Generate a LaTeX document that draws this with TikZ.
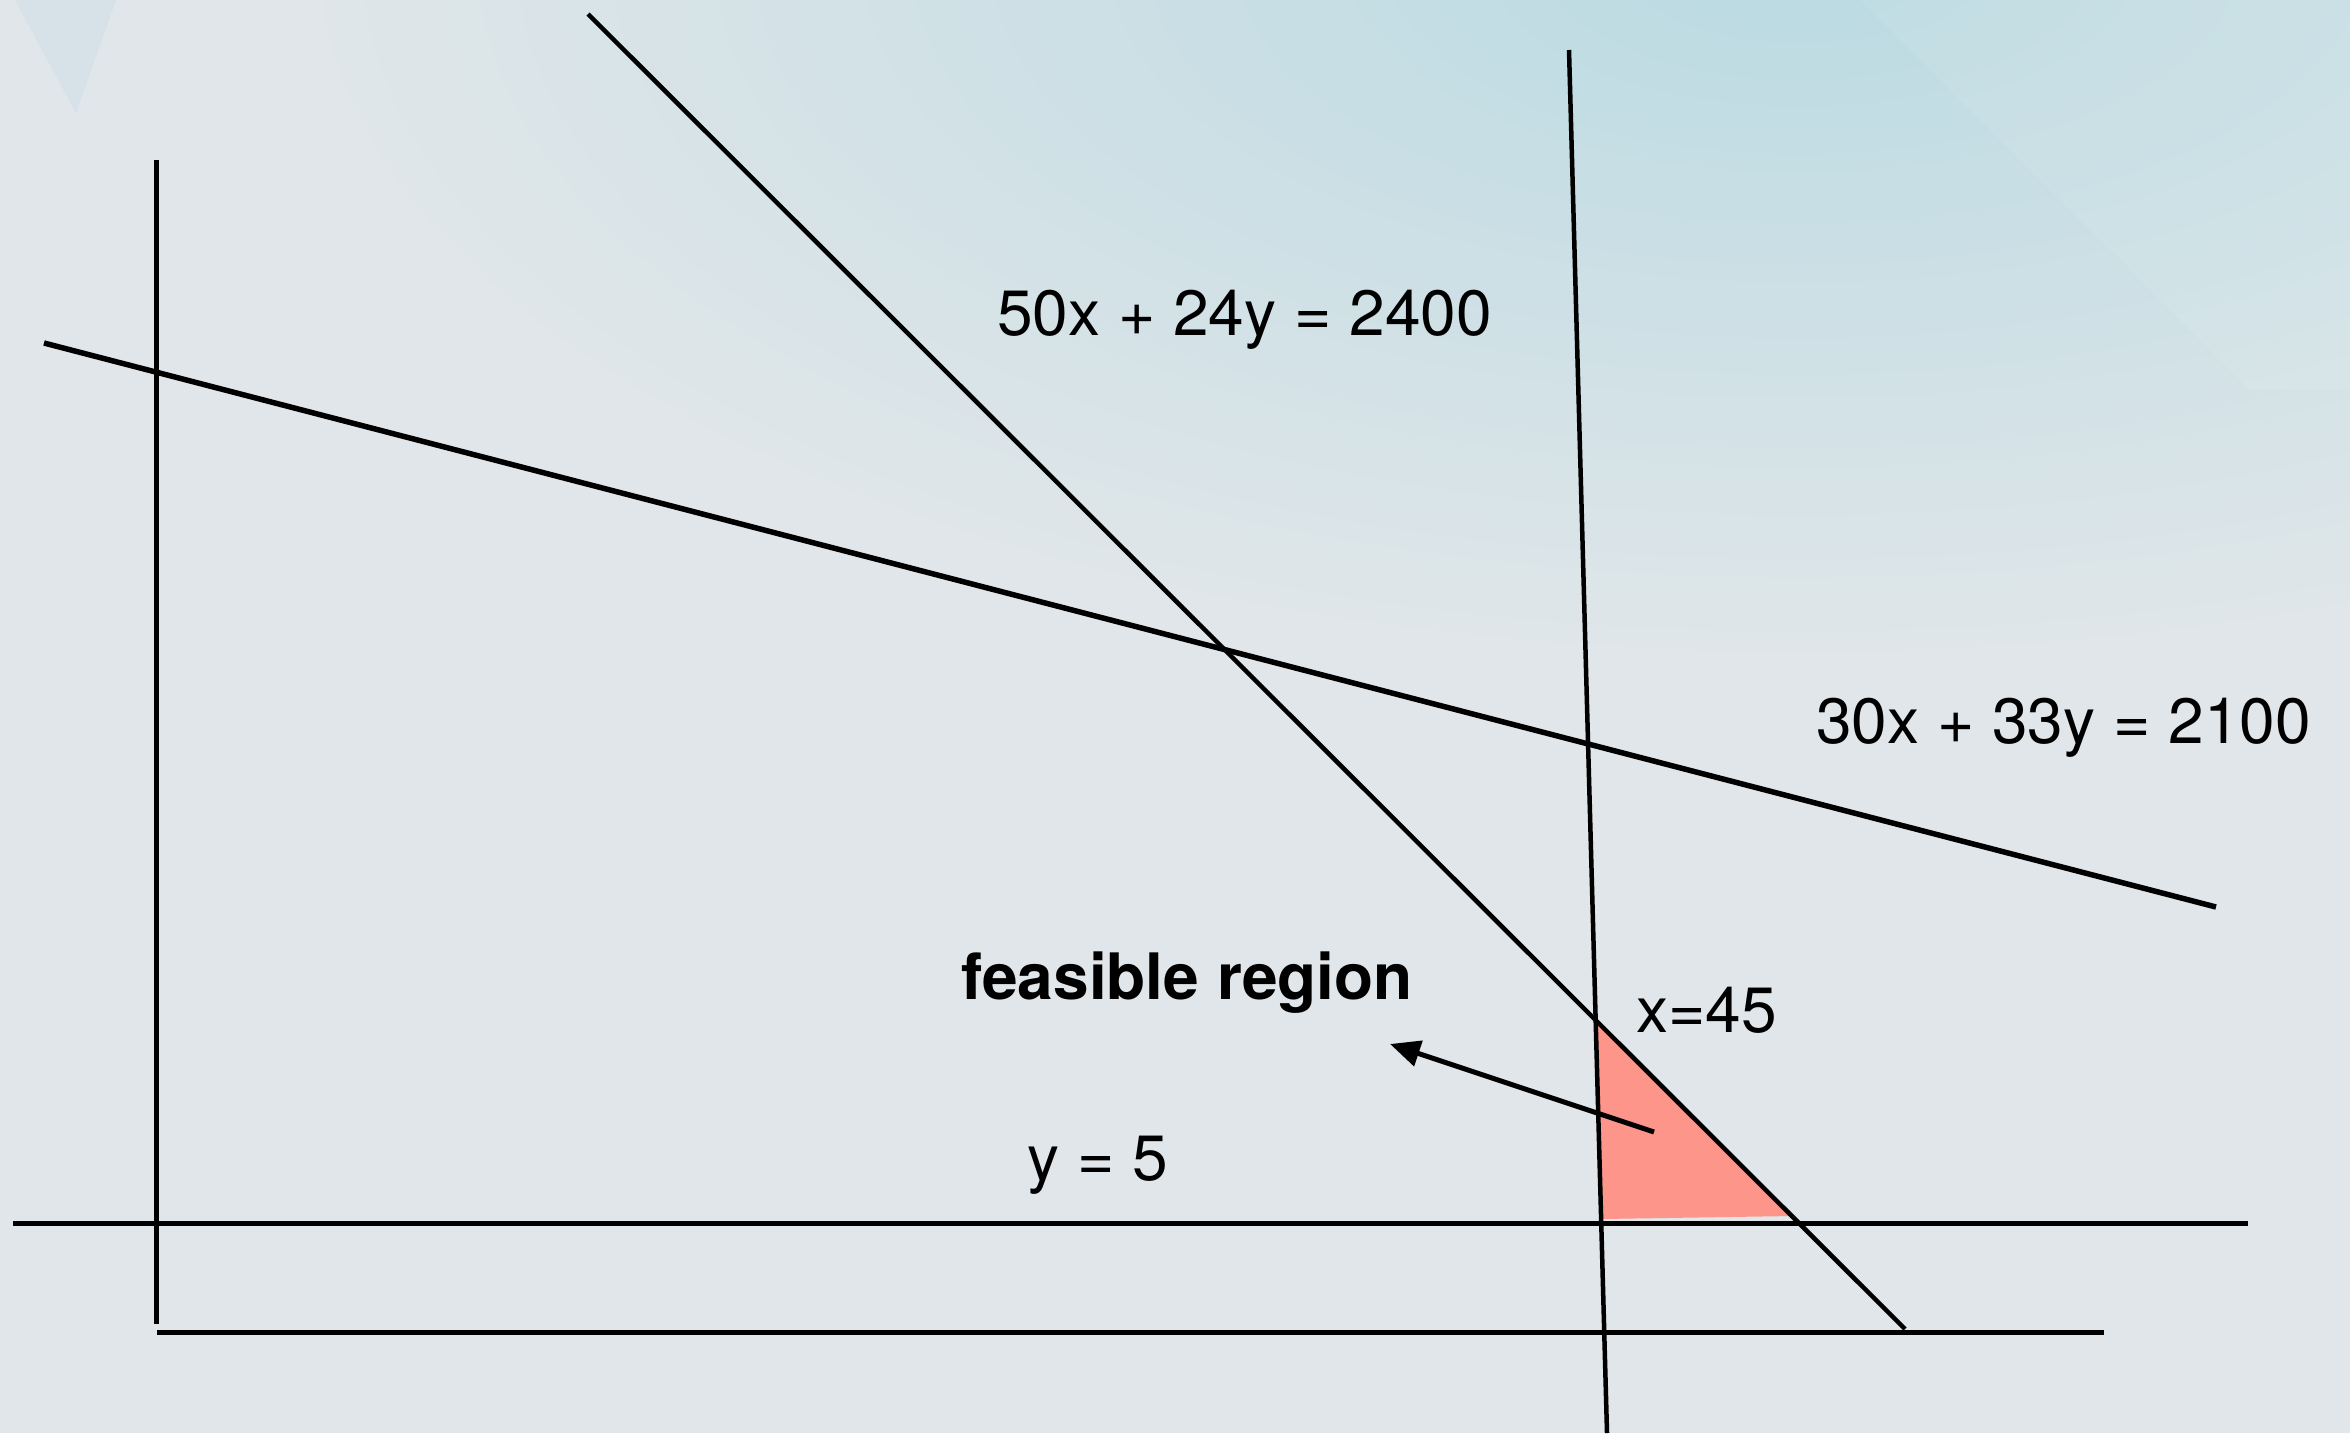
\documentclass[tikz,border=0pt]{standalone}
\usepackage{fontspec}
\setmainfont{TeX Gyre Heros}
\usetikzlibrary{arrows.meta}
\definecolor{bgbase}{RGB}{224,230,233}
\definecolor{bgteal}{RGB}{186,218,226}
\definecolor{feas}{RGB}{254,149,139}
\begin{document}
\begin{tikzpicture}[x=1pt,y=-1pt,
  ln/.style={line width=5pt,black},
  lbl/.style={anchor=base west,inner sep=0pt,font=\fontsize{64}{76}\selectfont},
  ]
\useasboundingbox (0,0) rectangle (2350,1433);
% background
\fill[bgbase] (0,0) rectangle (2350,1433);
\begin{scope}
  \clip (0,0) rectangle (2350,1433);
  \shade[inner color=bgteal, outer color=bgbase] (1800,-40) ellipse [x radius=1500pt, y radius=700pt];
  \fill[white,opacity=0.07] (1860,0) -- (2250,390) -- (2350,390) -- (2350,0) -- cycle;
  \fill[bgteal,opacity=0.25] (15,0) -- (76,113) -- (116,0) -- cycle;
\end{scope}

% coordinates
\coordinate (yT) at (156,160);
\coordinate (yB) at (156,1324);
\coordinate (xL) at (157,1332);
\coordinate (xR) at (2104,1332);
\coordinate (fL) at (13,1223);
\coordinate (fR) at (2248,1223);
\coordinate (cL) at (44,343);
\coordinate (cR) at (2216,907);
\coordinate (dT) at (588,14);
\coordinate (dB) at (1905,1329);
\coordinate (vT) at (1569,50);
\coordinate (vB) at (1607,1433);
\coordinate (p1) at (1597,1022);
\coordinate (p2) at (1602,1219);
\coordinate (p3) at (1793,1216);
\coordinate (aS) at (1654,1132);
\coordinate (aT) at (1390,1044);

% feasible region
\fill[feas] (p1) -- (p2) -- (p3) -- cycle;

% lines
\draw[ln] (yT) -- (yB);
\draw[ln] (xL) -- (xR);
\draw[ln] (fL) -- (fR);
\draw[ln,line width=5.5pt] (cL) -- (cR);
\draw[ln,line width=4.5pt] (dT) -- (dB);
\draw[ln,line width=4.5pt] (vT) -- (vB);

% arrow
\draw[ln,-{Triangle[length=30pt,width=26pt]}] (aS) -- (aT);

% labels
\node[lbl] (eqA) at (997,335) {50x + 24y = 2400};
\node[lbl] (eqB) at (1816,743) {30x + 33y = 2100};
\node[lbl] (xe) at (1636,1032) {x=45};
\node[lbl] (ye) at (1027,1180) {y = 5};
\node[lbl,font=\fontsize{64}{76}\selectfont\bfseries] (fr) at (961,999) {feasible region};
\end{tikzpicture}
\end{document}
